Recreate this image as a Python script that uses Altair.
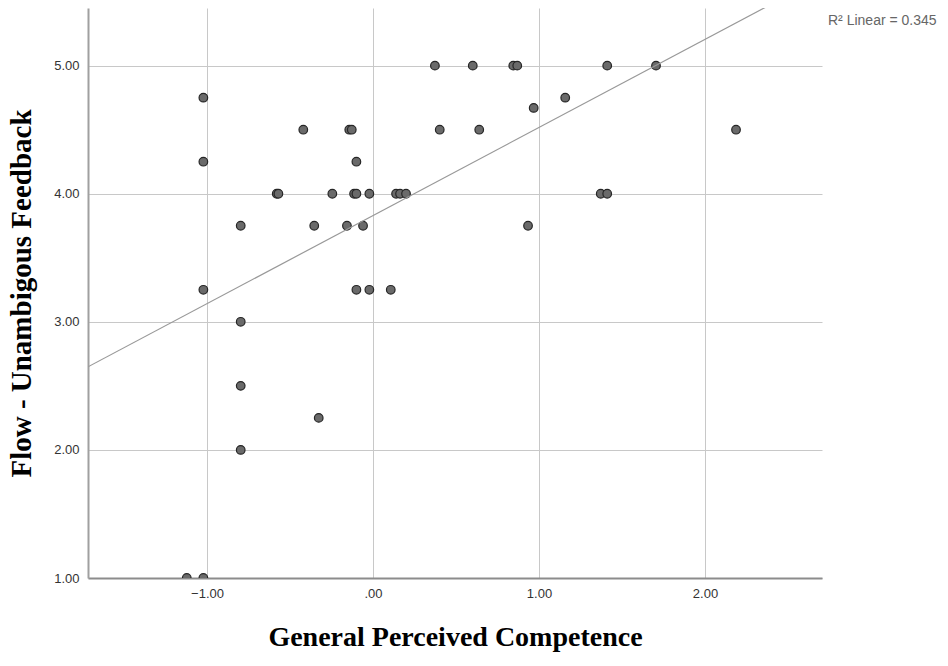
import altair as alt
import pandas as pd

# General Perceived Competence (x) and Flow - Unambiguous Feedback (y)
competence = [
    -1.022, -1.022, -1.022, -1.122, -1.022,
    -0.797, -0.797, -0.797, -0.797,
    -0.580, -0.570, -0.420, -0.354, -0.327, -0.245,
    -0.143, -0.128, -0.157, -0.114, -0.100, -0.100, -0.100,
    -0.060, -0.022, -0.022, 0.107,
    0.139, 0.163, 0.199,
    0.373, 0.402, 0.601, 0.640, 0.845, 0.869,
    0.934, 0.968, 1.158, 1.372, 1.411, 1.411, 1.705, 2.187,
]
feedback = [
    4.75, 4.25, 3.25, 1.00, 1.00,
    3.75, 3.00, 2.50, 2.00,
    4.00, 4.00, 4.50, 3.75, 2.25, 4.00,
    4.50, 4.50, 3.75, 4.00, 4.00, 4.25, 3.25,
    3.75, 4.00, 3.25, 3.25,
    4.00, 4.00, 4.00,
    5.00, 4.50, 5.00, 4.50, 5.00, 5.00,
    3.75, 4.67, 4.75, 4.00, 4.00, 5.00, 5.00, 4.50,
]

x_ticks = [-1.0, 0.0, 1.0, 2.0]
y_ticks = [1.0, 2.0, 3.0, 4.0, 5.0]
x_domain = [-1.717, 2.705]
y_domain = [1.0, 5.45]
r2_label = "R\u00b2 Linear = 0.345"

df = pd.DataFrame({"x": competence, "y": feedback})

W, H = 734, 570

x_enc = alt.X(
    "x:Q",
    scale=alt.Scale(domain=x_domain, nice=False, zero=False),
    axis=alt.Axis(
        values=x_ticks,
        labelExpr="datum.value == 0 ? '.00' : format(datum.value, '.2f')",
        title="General Perceived Competence",
        titleFont="Liberation Serif",
        titleFontSize=28,
        titleFontWeight="bold",
        titleColor="#000000",
        titlePadding=23,
        labelFont="Liberation Sans",
        labelFontSize=13,
        labelColor="#333333",
        labelPadding=9,
        ticks=False,
        domainColor="#8c8c8c",
        domainWidth=2,
        gridColor="#c8c8c8",
        gridWidth=1,
    ),
)
y_enc = alt.Y(
    "y:Q",
    scale=alt.Scale(domain=y_domain, nice=False, zero=False),
    axis=alt.Axis(
        values=y_ticks,
        format=".2f",
        title="Flow - Unambigous Feedback",
        titleFont="Liberation Serif",
        titleFontSize=29,
        titleFontWeight="bold",
        titleColor="#000000",
        titlePadding=17,
        labelFont="Liberation Sans",
        labelFontSize=13,
        labelColor="#333333",
        labelPadding=9,
        ticks=False,
        domainColor="#a0a0a0",
        domainWidth=2,
        gridColor="#c8c8c8",
        gridWidth=1,
    ),
)

points = alt.Chart(df).mark_circle(
    size=74, color="#6a6a6a", opacity=1, stroke="#262626", strokeWidth=1.2, clip=True
).encode(x=x_enc, y=y_enc)

fit = alt.Chart(df).transform_regression(
    "x", "y", extent=x_domain
).mark_line(color="#999999", strokeWidth=1.2, clip=True).encode(
    x=alt.X("x:Q"), y=alt.Y("y:Q")
)

label = alt.Chart(pd.DataFrame({"t": [r2_label]})).mark_text(
    align="left", baseline="middle", font="Liberation Sans", fontSize=14, color="#666666"
).encode(text="t:N", x=alt.value(W + 6), y=alt.value(13))

chart = alt.layer(points, fit, label).properties(
    width=W,
    height=H,
    autosize=alt.AutoSizeParams(type="none"),
    padding={"left": 88, "top": 8, "right": 126, "bottom": 88},
).configure_view(stroke=None)

chart.save("out.html", embed_options={"renderer": "svg", "actions": False})
